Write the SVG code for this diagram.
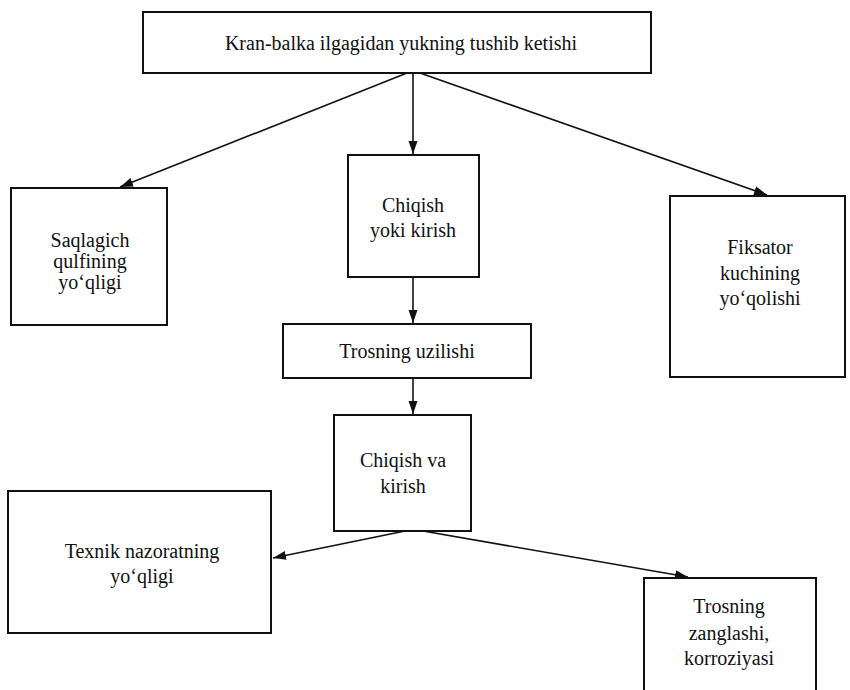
<svg xmlns="http://www.w3.org/2000/svg" width="850" height="690" viewBox="0 0 850 690">
<style>
.box{fill:#fff;stroke:#111;stroke-width:2}
.t{font-family:"Liberation Serif","Times New Roman",serif;font-size:20px;fill:#111;text-anchor:middle}
.c{stroke:#111;stroke-width:1.6;fill:none;marker-end:url(#ah)}
</style>
<defs>
<marker id="ah" markerUnits="userSpaceOnUse" markerWidth="14" markerHeight="10" refX="13" refY="5" orient="auto">
<path d="M0,0.5 L13,5 L0,9.5 Z" fill="#111"/>
</marker>
</defs>
<rect width="850" height="690" fill="#fff"/>
<g id="connectors">
<line class="c" x1="407" y1="73" x2="120" y2="187"/>
<line class="c" x1="413" y1="73" x2="413" y2="154"/>
<line class="c" x1="420" y1="73" x2="767" y2="195"/>
<line class="c" x1="413" y1="277" x2="413" y2="323"/>
<line class="c" x1="413" y1="378" x2="413" y2="414"/>
<line class="c" x1="405" y1="531" x2="273" y2="558"/>
<line class="c" x1="423" y1="531" x2="688" y2="577"/>
</g>
<g id="n1">
<rect class="box" x="143" y="12" width="508" height="61"/>
<text class="t" x="401" y="50">Kran-balka ilgagidan yukning tushib ketishi</text>
</g>
<g id="n2">
<rect class="box" x="11" y="188" width="156" height="137"/>
<text class="t" x="90" y="247">Saqlagich</text>
<text class="t" x="90" y="268">qulfining</text>
<text class="t" x="90" y="289">yo‘qligi</text>
</g>
<g id="n3">
<rect class="box" x="348" y="155" width="131" height="122"/>
<text class="t" x="413" y="212">Chiqish</text>
<text class="t" x="413" y="237">yoki kirish</text>
</g>
<g id="n4">
<rect class="box" x="670" y="196" width="175" height="181"/>
<text class="t" x="760" y="254">Fiksator</text>
<text class="t" x="760" y="280">kuchining</text>
<text class="t" x="760" y="305">yo‘qolishi</text>
</g>
<g id="n5">
<rect class="box" x="283" y="324" width="248" height="54"/>
<text class="t" x="407" y="358">Trosning uzilishi</text>
</g>
<g id="n6">
<rect class="box" x="334" y="415" width="137" height="116"/>
<text class="t" x="403" y="467">Chiqish va</text>
<text class="t" x="403" y="493">kirish</text>
</g>
<g id="n7">
<rect class="box" x="8" y="491" width="263" height="142"/>
<text class="t" x="142" y="558">Texnik nazoratning</text>
<text class="t" x="142" y="583">yo‘qligi</text>
</g>
<g id="n8">
<rect class="box" x="644" y="578" width="172" height="130"/>
<text class="t" x="729" y="613">Trosning</text>
<text class="t" x="729" y="640">zanglashi,</text>
<text class="t" x="729" y="665">korroziyasi</text>
</g>
</svg>
